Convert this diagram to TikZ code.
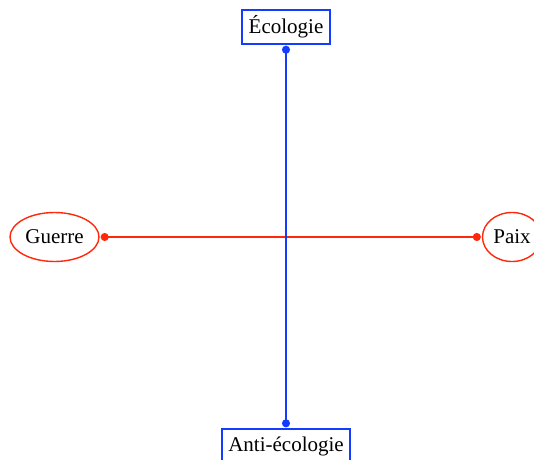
\documentclass[tikz,border=0pt]{standalone}
\usepackage{fontspec}
\setmainfont{Liberation Serif}
\usetikzlibrary{arrows.meta,shapes.geometric}
\definecolor{axisblue}{RGB}{20,60,255}
\definecolor{axisred}{RGB}{255,40,10}
\tikzset{
  label font/.style={font=\fontsize{21}{25}\selectfont, text=black},
  polebox/.style={label font, draw=axisblue, line width=1.4pt, rectangle,
    inner sep=0pt, minimum height=34pt},
  poleoval/.style={label font, draw=axisred, line width=1.4pt, ellipse,
    inner sep=0pt, minimum height=49pt},
  dotlink/.style={line width=1.6pt, {Circle[length=8pt]}-{Circle[length=8pt]}, shorten <=1pt, shorten >=1pt},
}
\begin{document}
\begin{tikzpicture}[x=1pt,y=1pt]
  \useasboundingbox (0,0) rectangle (534,459);
  % vertical axis poles
  \node[polebox, minimum width=88pt] (eco) at (286,432) {Écologie};
  \node[polebox, minimum width=128pt] (anti) at (286,13) {Anti-écologie};
  % horizontal axis poles
  \node[poleoval, minimum width=89pt] (guerre) at (54.5,222) {Guerre};
  \node[poleoval, minimum width=59pt] (paix) at (512,222) {Paix};
  % axes
  \draw[dotlink, axisred] (guerre) -- (paix);
  \draw[dotlink, axisblue] (eco) -- (anti);
\end{tikzpicture}
\end{document}
